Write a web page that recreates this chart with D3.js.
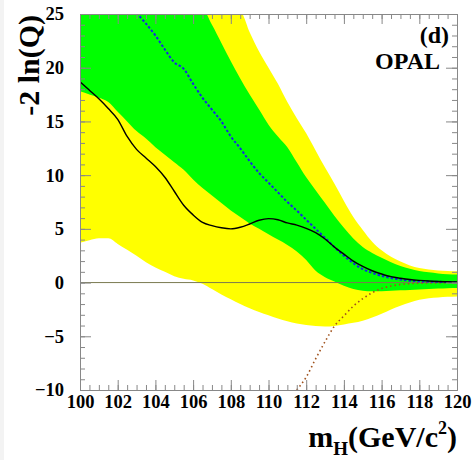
<!DOCTYPE html>
<html>
<head>
<meta charset="utf-8">
<script src="https://cdn.jsdelivr.net/npm/d3@7"></script>
<style>
  html, body { margin: 0; padding: 0; background: #fff; }
  svg text { font-family: "Liberation Serif", "Times New Roman", serif; font-weight: bold; fill: #000; }
</style>
</head>
<body>
<div id="chart"></div>
<script>
// -2ln(Q) vs Higgs mass, OPAL panel (d)
const MASS = [100, 100.5, 101, 101.5, 102, 102.5, 103, 103.5, 104, 104.5, 105, 105.5, 106, 106.5, 107,
  107.5, 108, 108.5, 109, 109.5, 110, 110.5, 111, 111.5, 112, 112.5, 113, 113.5, 114, 114.5, 115,
  115.5, 116, 116.5, 117, 117.5, 118, 118.5, 119, 119.5, 120];

// 2 sigma band (yellow)
const YELLOW_HI = [25, 25, 25, 25, 25, 25, 25, 25, 25, 25, 25, 25, 25, 25, 25,
  25, 25, 25.2, 23.3, 21.5, 20.0, 18.5, 16.8, 15.3, 13.9, 12.3, 10.7, 9.2, 7.6, 6.1, 4.9,
  3.8, 3.0, 2.4, 1.95, 1.6, 1.35, 1.22, 1.13, 1.08, 1.05];
const YELLOW_LO = [3.7, 3.95, 4.12, 4.12, 3.6, 3.05, 2.5, 1.9, 1.4, 1.0, 0.6, 0.35, 0.2, -0.1, -0.6,
  -1.1, -1.55, -2.0, -2.4, -2.75, -3.05, -3.35, -3.6, -3.8, -3.95, -4.05, -4.1, -4.05, -3.9, -3.75, -3.55,
  -3.25, -2.9, -2.5, -2.15, -1.85, -1.6, -1.45, -1.38, -1.33, -1.3];

// 1 sigma band (green)
const GREEN_HI = [25, 25, 25, 25, 25, 25, 25, 25, 25, 25, 25, 25, 25, 25.4, 24.0,
  22.3, 20.6, 19.0, 17.5, 16.1, 14.7, 13.6, 12.6, 11.2, 9.8, 8.6, 7.4, 6.2, 5.1, 4.1, 3.3,
  2.75, 2.3, 1.9, 1.55, 1.28, 1.08, 0.95, 0.85, 0.78, 0.75];
const GREEN_LO = [17.8, 17.5, 17.2, 16.8, 15.9, 15.0, 14.1, 13.4, 12.6, 11.9, 11.2, 10.5, 9.6, 8.8, 8.1,
  7.4, 6.7, 6.1, 5.5, 5.0, 4.5, 4.0, 3.5, 2.9, 2.1, 1.1, 0.5, 0.1, -0.3, -0.6, -0.75,
  -0.8, -0.8, -0.76, -0.72, -0.68, -0.64, -0.6, -0.56, -0.52, -0.5];

// observed
const OBSERVED = [18.7, 17.9, 17.1, 16.2, 15.2, 13.6, 12.4, 11.6, 10.8, 9.8, 8.5, 7.2, 6.3, 5.6, 5.3,
  5.1, 5.0, 5.15, 5.45, 5.8, 5.95, 5.85, 5.55, 5.35, 5.05, 4.65, 4.05, 3.3, 2.65, 2.0, 1.5,
  1.1, 0.8, 0.55, 0.4, 0.28, 0.2, 0.14, 0.1, 0.07, 0.05];

// expected for background only
const BKG_MASS = [103, 103.5, 104, 104.5, 105, 105.5, 106, 106.5, 107, 107.5, 108, 108.5, 109, 109.5,
  110, 110.5, 111, 111.5, 112, 112.5, 113, 113.5, 114, 114.5, 115, 115.5, 116, 116.5, 117, 117.5,
  118, 118.5, 119, 119.5, 120];
const BKG_EXP = [25.1, 24.1, 23.0, 21.7, 20.5, 19.9, 18.5, 17.2, 16.1, 15.0, 13.6, 12.5, 11.3, 10.2,
  9.3, 8.4, 7.5, 6.7, 5.85, 5.0, 4.15, 3.3, 2.5, 1.8, 1.25, 0.9, 0.62, 0.42, 0.28, 0.18,
  0.12, 0.09, 0.07, 0.05, 0.04];

// expected for signal + background
const SIG_MASS = [111.5, 112, 112.5, 113, 113.5, 114, 114.5, 115, 115.5, 116, 116.5, 117, 117.5,
  118, 118.5, 119, 119.5, 120];
const SIG_EXP = [-10, -8.8, -7.1, -5.5, -4.05, -3.1, -2.2, -1.5, -0.95, -0.55, -0.32, -0.18, -0.1,
  -0.06, -0.04, -0.03, -0.02, -0.01];

const X_MAJOR = d3.range(100, 120.01, 2);
const X_MINOR = d3.range(100, 120.01, 0.5);
const Y_MAJOR = [-10, -5, 0, 5, 10, 15, 20, 25];
const Y_MINOR = d3.range(-10, 25.01, 1);

const WIDTH = 472, HEIGHT = 460;
const MARGIN = { top: 14, right: 15, bottom: 70, left: 80 };
const AXIS_COLOR = '#888';

const svg = d3.select('#chart').append('svg')
  .attr('width', WIDTH)
  .attr('height', HEIGHT);

svg.append('rect').attr('x', 0).attr('y', 0).attr('width', 4).attr('height', HEIGHT).attr('fill', '#f3f3f3');

const x = d3.scaleLinear().domain([100, 120]).range([MARGIN.left, WIDTH - MARGIN.right]);
const y = d3.scaleLinear().domain([-10, 25]).range([HEIGHT - MARGIN.bottom, MARGIN.top]);

svg.append('clipPath').attr('id', 'plot-clip')
  .append('rect')
  .attr('x', x(100)).attr('y', y(25))
  .attr('width', x(120) - x(100)).attr('height', y(-10) - y(25));

const plot = svg.append('g').attr('clip-path', 'url(#plot-clip)');

const bandArea = (lo, hi) => d3.area()
  .x((d, i) => x(MASS[i]))
  .y0((d, i) => y(lo[i]))
  .y1((d, i) => y(hi[i]))
  .curve(d3.curveMonotoneX);

plot.append('path')
  .datum(MASS)
  .attr('fill', '#ffff00')
  .attr('d', bandArea(YELLOW_LO, YELLOW_HI));

plot.append('path')
  .datum(MASS)
  .attr('fill', '#00ff00')
  .attr('d', bandArea(GREEN_LO, GREEN_HI));

plot.append('line')
  .attr('x1', x(100)).attr('x2', x(120))
  .attr('y1', y(0)).attr('y2', y(0))
  .attr('stroke', '#7a7a50')
  .attr('stroke-width', 1);

const curve = (ms) => d3.line()
  .x((d, i) => x(ms[i]))
  .y(d => y(d))
  .curve(d3.curveMonotoneX);

plot.append('path')
  .datum(SIG_EXP)
  .attr('fill', 'none')
  .attr('stroke', '#a0521d')
  .attr('stroke-width', 1.6)
  .attr('stroke-dasharray', '1.5,3')
  .attr('d', curve(SIG_MASS));

plot.append('path')
  .datum(BKG_EXP)
  .attr('fill', 'none')
  .attr('stroke', '#1428e6')
  .attr('stroke-width', 2)
  .attr('stroke-dasharray', '2.5,2')
  .attr('d', curve(BKG_MASS));

plot.append('path')
  .datum(OBSERVED)
  .attr('fill', 'none')
  .attr('stroke', '#000')
  .attr('stroke-width', 1.4)
  .attr('d', curve(MASS));

// axes, ticks inward on all four sides
function styleAxis(g) {
  g.select('.domain').attr('stroke', AXIS_COLOR);
  g.selectAll('.tick line').attr('stroke', AXIS_COLOR);
}

const yBottom = y(-10), yTop = y(25), xLeft = x(100), xRight = x(120);

svg.append('g')
  .attr('transform', `translate(0,${yBottom})`)
  .call(d3.axisBottom(x).tickValues(X_MINOR).tickSize(-5).tickSizeOuter(0).tickFormat(''))
  .call(styleAxis);
svg.append('g')
  .attr('transform', `translate(0,${yBottom})`)
  .call(d3.axisBottom(x).tickValues(X_MAJOR).tickSize(-10).tickSizeOuter(0).tickPadding(5))
  .call(styleAxis)
  .selectAll('text')
  .style('font-size', '18.5px');

svg.append('g')
  .attr('transform', `translate(0,${yTop})`)
  .call(d3.axisTop(x).tickValues(X_MINOR).tickSize(-5).tickSizeOuter(0).tickFormat(''))
  .call(styleAxis);
svg.append('g')
  .attr('transform', `translate(0,${yTop})`)
  .call(d3.axisTop(x).tickValues(X_MAJOR).tickSize(-10).tickSizeOuter(0).tickFormat(''))
  .call(styleAxis);

svg.append('g')
  .attr('transform', `translate(${xLeft},0)`)
  .call(d3.axisLeft(y).tickValues(Y_MINOR).tickSize(-5).tickSizeOuter(0).tickFormat(''))
  .call(styleAxis);
svg.append('g')
  .attr('transform', `translate(${xLeft},0)`)
  .call(d3.axisLeft(y).tickValues(Y_MAJOR).tickSize(-11).tickSizeOuter(0).tickPadding(16))
  .call(styleAxis)
  .selectAll('text')
  .style('font-size', '18.5px');

svg.append('g')
  .attr('transform', `translate(${xRight},0)`)
  .call(d3.axisRight(y).tickValues(Y_MINOR).tickSize(-5).tickSizeOuter(0).tickFormat(''))
  .call(styleAxis);
svg.append('g')
  .attr('transform', `translate(${xRight},0)`)
  .call(d3.axisRight(y).tickValues(Y_MAJOR).tickSize(-11).tickSizeOuter(0).tickFormat(''))
  .call(styleAxis);

// axis titles
svg.append('text')
  .attr('transform', `translate(39,${yTop + 1}) rotate(-90)`)
  .attr('text-anchor', 'end')
  .style('font-size', '30px')
  .text('-2 ln(Q)');

const xTitle = svg.append('text')
  .attr('x', xRight)
  .attr('y', 447)
  .attr('text-anchor', 'end')
  .style('font-size', '30px');
xTitle.append('tspan').text('m');
xTitle.append('tspan').attr('dy', 8).style('font-size', '19px').text('H');
xTitle.append('tspan').attr('dy', -8).text('(GeV/c');
xTitle.append('tspan').attr('dy', -13).style('font-size', '18px').text('2');
xTitle.append('tspan').attr('dy', 13).text(')');

svg.append('text')
  .attr('x', 449).attr('y', 43)
  .attr('text-anchor', 'end')
  .style('font-size', '24px')
  .text('(d)');

svg.append('text')
  .attr('x', 440).attr('y', 69)
  .attr('text-anchor', 'end')
  .style('font-size', '24px')
  .text('OPAL');
</script>
</body>
</html>
